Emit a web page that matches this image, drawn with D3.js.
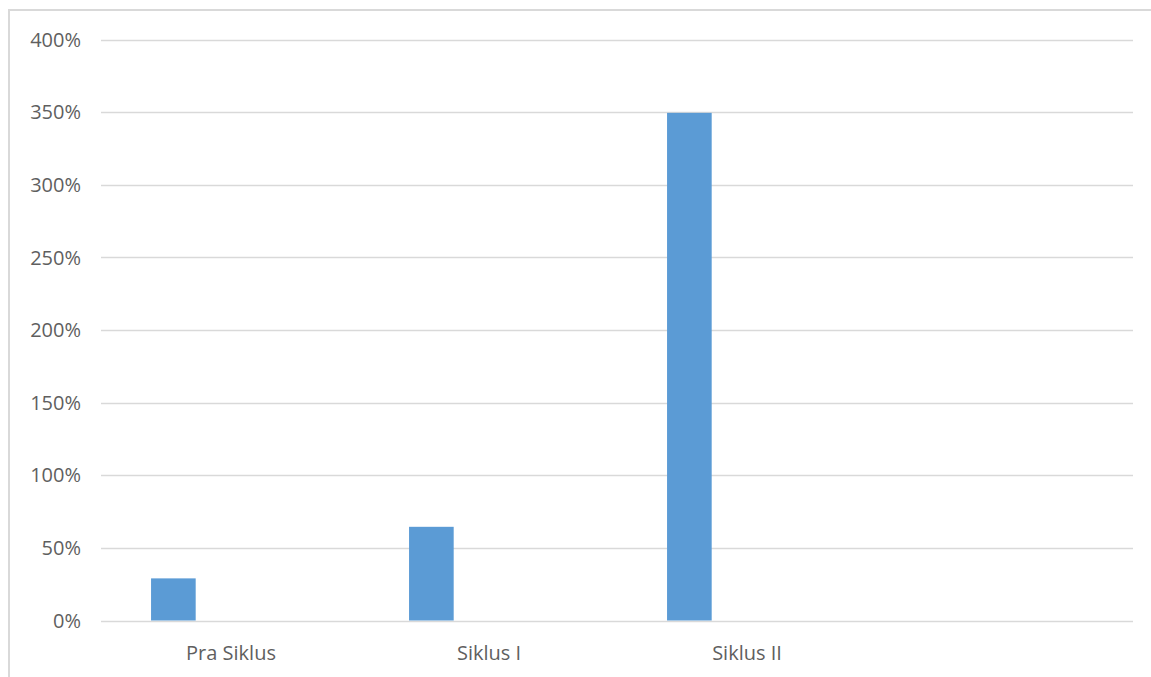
<!DOCTYPE html>
<head>
  <meta charset="utf-8">
  <title>Siklus</title>
</head>
<style>
  body {
    margin: 0;
    background: #fff;
    overflow: hidden;
  }
  .grid line {
    stroke: #d9d9d9;
    stroke-width: 1.3px;
  }
  .tick_label, .cat_label {
    font-family: "Open Sans", sans-serif;
    font-size: 20px;
    fill: #5f5f5f;
  }
</style>
<body>
<svg id="chart" width="1151" height="677"></svg>
<script src="https://cdn.jsdelivr.net/npm/d3@7/dist/d3.min.js"></script>
<script>
  // data
  var categories = ["Pra Siklus", "Siklus I", "Siklus II", ""];
  var values = [0.29, 0.645, 3.495, null];
  var yTicks = [0, 0.5, 1, 1.5, 2, 2.5, 3, 3.5, 4];

  var svg = d3.select("#chart");

  // chart frame (only top and left edges are inside the picture)
  svg.append("rect")
    .attr("x", 9).attr("y", 10)
    .attr("width", 1300).attr("height", 800)
    .attr("fill", "none")
    .attr("stroke", "#d9d9d9")
    .attr("stroke-width", 2);

  var plotLeft = 101, plotRight = 1133, plotTop = 39.5, plotBottom = 620.5;

  var x = d3.scaleBand().domain(categories).range([plotLeft, plotRight]).padding(0);
  var y = d3.scaleLinear().domain([0, 4]).range([plotBottom, plotTop]);

  // gridlines
  svg.append("g").attr("class", "grid")
    .selectAll("line")
    .data(yTicks)
    .enter().append("line")
      .attr("x1", plotLeft).attr("x2", plotRight)
      .attr("y1", d => Math.round(y(d)) + 0.5)
      .attr("y2", d => Math.round(y(d)) + 0.5);

  // y tick labels
  svg.selectAll(".tick_label")
    .data(yTicks)
    .enter().append("text")
      .attr("class", "tick_label")
      .attr("x", 81)
      .attr("y", d => y(d))
      .attr("dy", "0.36em")
      .attr("text-anchor", "end")
      .text(d => d3.format(".0%")(d));

  // bars sit in the first slot of each category band
  var bars = categories.map((c, i) => ({ cat: c, v: values[i] })).filter(d => d.v != null);
  svg.selectAll(".bar")
    .data(bars)
    .enter().append("rect")
      .attr("class", "bar")
      .attr("x", d => x(d.cat) + x.bandwidth() * 0.194)
      .attr("width", x.bandwidth() * 0.173)
      .attr("y", d => y(d.v))
      .attr("height", d => y(0) - y(d.v))
      .attr("fill", "#5b9bd5");

  // category labels
  svg.selectAll(".cat_label")
    .data(categories)
    .enter().append("text")
      .attr("class", "cat_label")
      .attr("x", d => x(d) + x.bandwidth() / 2 + 1)
      .attr("y", 659.5)
      .attr("text-anchor", "middle")
      .text(d => d);
</script>
